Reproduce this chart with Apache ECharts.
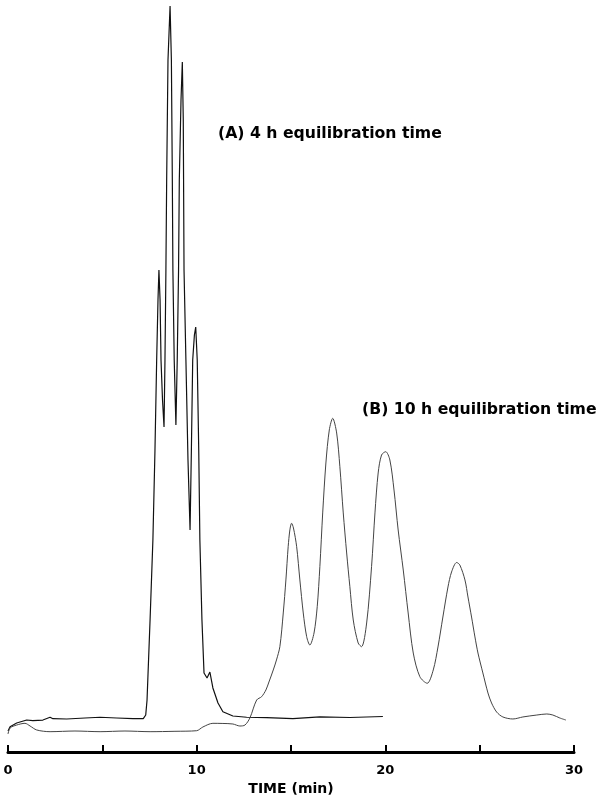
<!DOCTYPE html>
<html>
<head>
<meta charset="utf-8">
<title>Chromatograms: 4 h vs 10 h equilibration</title>
<script src="https://cdn.jsdelivr.net/npm/echarts@6/dist/echarts.min.js"></script>
<style>
  html, body { margin: 0; padding: 0; background: #fff; }
  #chart { width: 601px; height: 805px; }
</style>
</head>
<body>
<div id="chart"></div>
<script>
// Retention time (min) and detector response (arbitrary units) for each run.

// (A) 4 h equilibration time
const timeA = [0, 0.11, 0.46, 0.99, 1.32, 1.85, 2.23, 2.38, 3.11, 4.08, 4.88, 5.76, 6.62, 7.17, 7.30,
  7.37, 7.53, 7.68, 7.79, 7.88, 7.95, 8.00, 8.06, 8.11, 8.19, 8.27, 8.32, 8.37, 8.41, 8.48,
  8.59, 8.66, 8.71, 8.74, 8.81, 8.90, 8.97, 9.04, 9.08, 9.17, 9.24, 9.29, 9.33, 9.43, 9.54,
  9.65, 9.72, 9.79, 9.88, 9.95, 10.03, 10.11, 10.17, 10.28, 10.39, 10.55, 10.70, 10.86, 11.13,
  11.39, 11.92, 12.65, 13.71, 15.10, 16.53, 18.12, 19.87];
const signalA = [2.81, 3.39, 3.88, 4.28, 4.19, 4.28, 4.65, 4.46, 4.42, 4.55, 4.65, 4.55, 4.46, 4.46, 4.95,
  6.96, 17.67, 28.38, 40.43, 52.48, 60.51, 64.52, 60.51, 52.48, 47.12, 43.51, 52.48, 64.52, 76.57, 92.64,
  99.87, 92.64, 76.57, 64.52, 52.48, 43.78, 52.48, 64.52, 76.57, 87.28, 92.37, 84.61, 64.52, 52.48, 39.09,
  29.72, 40.43, 52.48, 55.82, 56.89, 52.48, 40.43, 28.38, 17.67, 10.58, 9.91, 10.71, 8.57, 6.56,
  5.39, 4.82, 4.65, 4.59, 4.46, 4.69, 4.62, 4.75];

// (B) 10 h equilibration time
const timeB = [0, 0.11, 0.46, 0.90, 1.17, 1.52, 2.23, 3.55, 4.88, 6.20, 7.53, 8.85, 10.00, 10.33, 10.86,
  11.39, 11.92, 12.29, 12.56, 12.82, 13.18, 13.44, 13.67, 13.83, 14.06, 14.23, 14.41, 14.59, 14.73, 14.85,
  14.94, 15.03, 15.13, 15.30, 15.47, 15.65, 15.83, 16.00, 16.22, 16.39, 16.53, 16.68, 16.85, 17.03, 17.21,
  17.42, 17.59, 17.77, 17.95, 18.12, 18.30, 18.56, 18.74, 19.01, 19.27, 19.45, 19.62, 19.80, 20.02, 20.24,
  20.46, 20.68, 20.95, 21.21, 21.48, 21.83, 22.22, 22.54, 22.79, 23.05, 23.32, 23.51, 23.78, 23.95, 24.22,
  24.38, 24.57, 24.75, 24.91, 25.17, 25.44, 25.63, 25.90, 26.23, 26.76, 27.29, 28.03, 28.56, 28.88, 29.25,
  29.57];
const signalB = [2.41, 3.21, 3.61, 3.84, 3.48, 2.95, 2.72, 2.81, 2.72, 2.81, 2.72, 2.77, 2.85, 3.35, 3.84,
  3.82, 3.75, 3.48, 3.61, 4.55, 6.96, 7.40, 8.30, 9.37, 10.98, 12.32, 14.10, 18.61, 23.03, 27.48,
  29.72, 30.62, 29.99, 27.48, 23.03, 18.61, 15.44, 14.32, 15.93, 19.45, 24.81, 32.00, 38.69, 43.11, 44.67,
  42.70, 38.19, 32.00, 26.64, 22.13, 17.67, 14.59, 14.10, 17.27, 24.81, 32.00, 37.35, 39.76, 40.20, 39.09,
  35.07, 29.72, 24.36, 18.61, 13.25, 10.08, 9.20, 10.98, 14.06, 18.07, 22.09, 24.10, 25.37, 25.03, 23.03,
  20.75, 18.07, 15.40, 13.25, 10.58, 7.90, 6.56, 5.35, 4.69, 4.42, 4.69, 4.95, 5.09, 4.95, 4.55,
  4.28];

// Time axis ticks: every 5 min, labelled every 10 min
const tickStep = 5;
const labelledTicks = [0, 10, 20, 30];

const labelA = '(A) 4 h equilibration time';
const labelB = '(B) 10 h equilibration time';
const axisTitle = 'TIME (min)';

const zip = (xs, ys) => xs.map((x, i) => [x, ys[i]]);

const chart = echarts.init(document.getElementById('chart'), null, { renderer: 'canvas' });

const boldFont = 'DejaVu Sans';

chart.setOption({
  animation: false,
  backgroundColor: '#ffffff',
  grid: { left: 8, right: 27, top: 5, bottom: 53, containLabel: false },
  xAxis: {
    type: 'value',
    min: 0,
    max: 30,
    interval: tickStep,
    name: axisTitle,
    nameLocation: 'middle',
    nameGap: 30,
    nameTextStyle: { fontFamily: boldFont, fontWeight: 'bold', fontSize: 14, color: '#000' },
    axisLine: { show: true, lineStyle: { color: '#000', width: 3 } },
    axisTick: { show: true, inside: true, length: 7, lineStyle: { color: '#000', width: 2 } },
    axisLabel: {
      margin: 12,
      fontFamily: boldFont,
      fontWeight: 'bold',
      fontSize: 13,
      color: '#000',
      formatter: v => (labelledTicks.indexOf(v) >= 0 ? String(v) : '')
    },
    splitLine: { show: false }
  },
  yAxis: {
    type: 'value',
    min: 0,
    max: 100,
    show: false,
    splitLine: { show: false }
  },
  series: [
    {
      name: labelA,
      type: 'line',
      data: zip(timeA, signalA),
      showSymbol: false,
      smooth: false,
      lineStyle: { color: '#111', width: 1.2 }
    },
    {
      name: labelB,
      type: 'line',
      data: zip(timeB, signalB),
      showSymbol: false,
      smooth: 0.3,
      lineStyle: { color: '#444', width: 1 }
    }
  ],
  graphic: [
    {
      type: 'text',
      left: 218,
      top: 126,
      style: { text: labelA, fontFamily: boldFont, fontWeight: 'bold', fontSize: 15.7, fill: '#000' }
    },
    {
      type: 'text',
      left: 362,
      top: 402,
      style: { text: labelB, fontFamily: boldFont, fontWeight: 'bold', fontSize: 15.7, fill: '#000' }
    }
  ]
});
</script>
</body>
</html>
